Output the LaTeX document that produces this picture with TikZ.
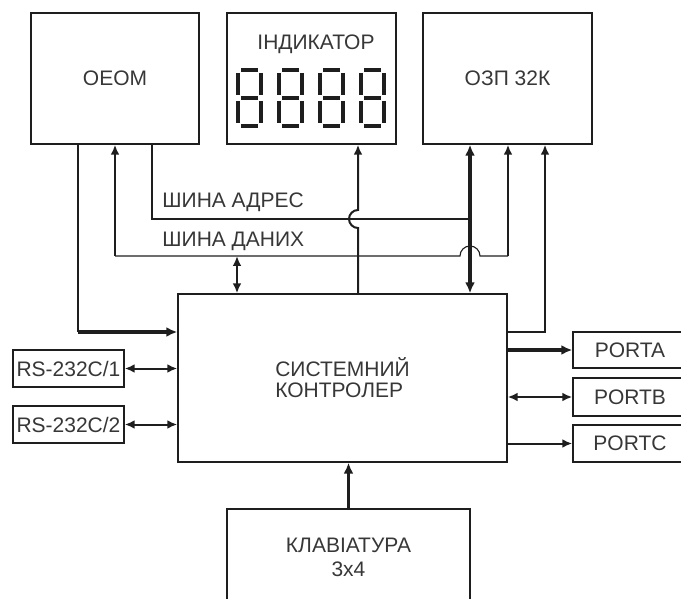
\documentclass[tikz,border=0pt]{standalone}
\usepackage{fontspec}
\setmainfont{Liberation Sans}
\usetikzlibrary{arrows.meta,calc}
\definecolor{linecol}{RGB}{30,30,30}
\definecolor{textcol}{RGB}{55,55,55}
\tikzset{
  unitbox/.style={draw=linecol,line width=0.7pt,inner sep=0pt,text=textcol},
  wire/.style={draw=linecol,line width=0.55pt},
  sigarrow/.style={draw=linecol,line width=1pt,-{Latex[length=5pt,width=4.4pt]}},
  duplex/.style={draw=linecol,line width=1pt,{Latex[length=5pt,width=4.4pt]}-{Latex[length=5pt,width=4.4pt]}},
  thickarrow/.style={draw=linecol,line width=1.6pt,-{Latex[length=5.5pt,width=5pt]}},
  thickduplex/.style={draw=linecol,line width=1.6pt,{Latex[length=5.5pt,width=5pt]}-{Latex[length=5.5pt,width=5pt]}},
  seg/.style={draw=linecol,line width=2pt}
}

\begin{document}
\begin{tikzpicture}[x=0.5pt,y=-0.5pt,font=\fontsize{10.5}{12}\selectfont]
  \useasboundingbox (0,0) rectangle (681,599);
  \clip (0,0) rectangle (681,599);

  % --- top row ---
  \node[unitbox,minimum width=84pt,minimum height=65.5pt] (oeom) at (115,78.5) {OEOM};
  \node[unitbox,minimum width=84.5pt,minimum height=65.5pt] (ind) at (311.5,78.5) {};
  \node[inner sep=0pt,text=textcol] (indtitle) at (316,44) {ІНДИКАТОР};
  \node[unitbox,minimum width=84.5pt,minimum height=65.5pt] (ozp) at (507.5,78.5) {ОЗП 32К};

  % --- seven-segment digits ---
  \foreach \dx in {236,277,318,359} {
    \draw[seg] (\dx+5,70) -- (\dx+22,70);
    \draw[seg] (\dx+5,98) -- (\dx+22,98);
    \draw[seg] (\dx+5,126) -- (\dx+22,126);
    \draw[seg] (\dx+2,73) -- (\dx+2,95);
    \draw[seg] (\dx+2,101) -- (\dx+2,123);
    \draw[seg] (\dx+25,73) -- (\dx+25,95);
    \draw[seg] (\dx+25,101) -- (\dx+25,123);
  }

  % --- controller and periphery ---
  \node[unitbox,minimum width=164.5pt,minimum height=84pt,align=left,
        font=\fontsize{10.5}{10.5}\selectfont] (ctrl) at (342.5,378) {СИСТЕМНИЙ\\КОНТРОЛЕР};
  \node[unitbox,minimum width=55.5pt,minimum height=18.5pt] (rs1) at (68.5,368.5) {RS-232C/1};
  \node[unitbox,minimum width=55.5pt,minimum height=18.5pt] (rs2) at (68.5,424.5) {RS-232C/2};
  \node[unitbox,minimum width=57pt,minimum height=18pt] (porta) at (630,350) {PORTA};
  \node[unitbox,minimum width=57pt,minimum height=19pt] (portb) at (630,397) {PORTB};
  \node[unitbox,minimum width=57pt,minimum height=18.5pt] (portc) at (630,443.5) {PORTC};
  \node[unitbox,minimum width=121.5pt,minimum height=48pt,align=center] (kbd) at (348.5,557) {КЛАВІАТУРА\\3x4};

  % --- bus labels ---
  \node[anchor=west,inner sep=0pt,text=textcol] (adrlabel) at (162,202) {ШИНА АДРЕС};
  \node[anchor=west,inner sep=0pt,text=textcol] (datlabel) at (162,241.5) {ШИНА ДАНИХ};

  % --- junction points ---
  \coordinate (adrL) at (152,219);
  \coordinate (adrR) at (470,219);
  \coordinate (datL) at (115,256);
  \coordinate (datC) at (237,256);
  \coordinate (datJ) at (470,256);
  \coordinate (datR) at (508,256);
  \coordinate (indJ) at (358,219);
  \coordinate (oeomC) at (78,332);
  \coordinate (ozpC) at (545,332);

  % --- address bus ---
  \draw[wire] (oeom.south -| adrL) -- (adrL) -- (adrR);

  % --- data bus ---
  \draw[wire] (datL) -- ($(datJ)+(-10,0)$) arc (180:360:10) -- (datR);
  \draw[sigarrow] (datL) -- (oeom.south -| datL);
  \draw[sigarrow] (datR) -- (ozp.south -| datR);
  \draw[duplex] (ctrl.north -| datC) -- (datC);

  % --- controller to indicator / memory ---
  \draw[sigarrow] (ctrl.north -| indJ) -- ($(indJ)+(0,9)$) arc (90:270:9) -- (ind.south -| indJ);
  \draw[thickduplex] (ctrl.north -| adrR) -- (ozp.south -| adrR);
  \draw[sigarrow] (ctrl.east |- ozpC) -| (ozp.south -| ozpC);

  % --- OEOM to controller ---
  \draw[wire] (oeom.south -| oeomC) -- (oeomC);
  \draw[thickarrow] ($(oeomC)+(-0.5,0)$) -- (ctrl.west |- oeomC);

  % --- serial ports ---
  \draw[duplex] (rs1.east) -- (ctrl.west |- rs1.east);
  \draw[duplex] (rs2.east) -- (ctrl.west |- rs2.east);

  % --- parallel ports ---
  \draw[thickarrow] (ctrl.east |- porta.west) -- (porta.west);
  \draw[duplex] (ctrl.east |- portb.west) -- (portb.west);
  \draw[sigarrow] (ctrl.east |- portc.west) -- (portc.west);

  % --- keyboard ---
  \draw[thickarrow] (kbd.north) -- (ctrl.south -| kbd.north);
\end{tikzpicture}
\end{document}
